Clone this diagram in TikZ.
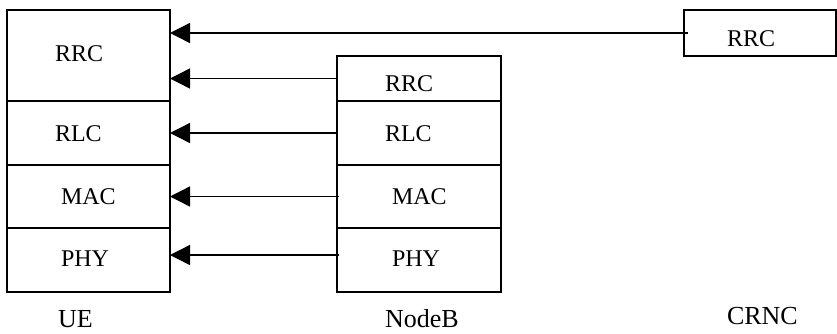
\documentclass[tikz,border=0pt]{standalone}
\usepackage{fontspec}
\setmainfont{Liberation Serif}
\usetikzlibrary{arrows.meta}
\begin{document}
\begin{tikzpicture}[x=1pt,y=-1pt,
  layer/.style={draw, line width=1.5pt, rectangle, inner sep=0pt, outer sep=0pt},
  lbl/.style={inner sep=0pt, outer sep=0pt, anchor=base west, font=\fontsize{24}{28}\selectfont},
  caplbl/.style={inner sep=0pt, outer sep=0pt, anchor=base west, font=\fontsize{26}{30}\selectfont},
  arr/.style={line width=1.4pt, -{Triangle[length=20pt,width=20pt]}}]
\useasboundingbox (0,0) rectangle (837,333);
% UE stack
\node[layer, minimum width=163pt, minimum height=91pt] (ueRRC) at (88.5,55.5) {};
\node[layer, minimum width=163pt, minimum height=64pt] (ueRLC) at (88.5,133) {};
\node[layer, minimum width=163pt, minimum height=63pt] (ueMAC) at (88.5,196.5) {};
\node[layer, minimum width=163pt, minimum height=64pt] (uePHY) at (88.5,260) {};
% NodeB stack
\node[layer, minimum width=164pt, minimum height=45pt] (nbRRC) at (419,78.5) {};
\node[layer, minimum width=164pt, minimum height=64pt] (nbRLC) at (419,133) {};
\node[layer, minimum width=164pt, minimum height=63pt] (nbMAC) at (419,196.5) {};
\node[layer, minimum width=164pt, minimum height=64pt] (nbPHY) at (419,260) {};
% CRNC
\node[layer, minimum width=152pt, minimum height=46pt] (crRRC) at (760,33) {};
% labels
\node[lbl] (tueRRC) at (55,61.7) {RRC};
\node[lbl] (tueRLC) at (55,141.7) {RLC};
\node[lbl] (tueMAC) at (61,204) {MAC};
\node[lbl] (tuePHY) at (61,266.7) {PHY};
\node[lbl] (tnbRRC) at (385,91.7) {RRC};
\node[lbl] (tnbRLC) at (385,141.7) {RLC};
\node[lbl] (tnbMAC) at (392,204) {MAC};
\node[lbl] (tnbPHY) at (392,266.7) {PHY};
\node[lbl] (tcrRRC) at (727,46.7) {RRC};
\node[caplbl] (tUE) at (58,327) {UE};
\node[caplbl] (tNB) at (385,327) {NodeB};
\node[caplbl] (tCR) at (727,324) {CRNC};
% arrows
\draw[arr] ([xshift=4pt]crRRC.west) -- (ueRRC.east |- crRRC.west);
\draw[arr] (nbRRC.west) -- (ueRRC.east |- nbRRC.west);
\draw[arr] (nbRLC.west) -- (ueRLC.east);
\draw[arr] ([xshift=2pt]nbMAC.west) -- (ueMAC.east);
\draw[arr] ([xshift=2pt,yshift=5pt]nbPHY.west) -- ([yshift=5pt]uePHY.east);
\end{tikzpicture}
\end{document}
